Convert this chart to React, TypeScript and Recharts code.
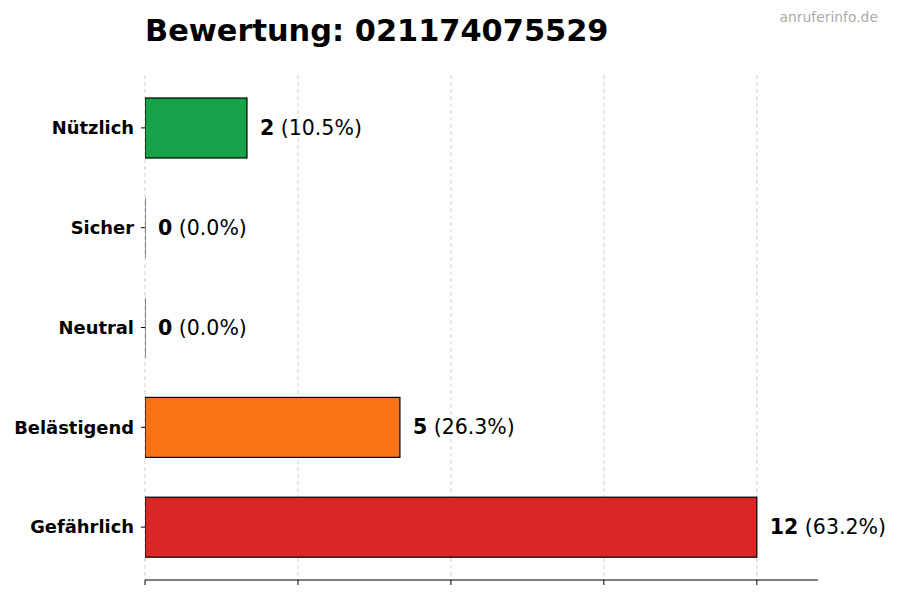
import React from "react";
import {
  Bar,
  BarChart,
  CartesianGrid,
  Cell,
  LabelList,
  XAxis,
  YAxis,
} from "recharts";

const categories = ["Nützlich", "Sicher", "Neutral", "Belästigend", "Gefährlich"];
const counts = [2, 0, 0, 5, 12];
const colors = ["#16a34a", "#3b82f6", "#9ca3af", "#f97316", "#dc2626"];
const xTicks = [0, 3, 6, 9, 12];
const xMax = 13.2;

const total = counts.reduce((a, b) => a + b, 0);
const data = categories.map((name, i) => ({
  name,
  count: counts[i],
  pct: ((counts[i] / total) * 100).toFixed(1),
}));

const FONT = "DejaVu Sans, sans-serif";

const BarShape = (props: any) => {
  const { x, y, width, height, fill } = props;
  if (!width || width < 0.5) {
    return <line x1={x} x2={x} y1={y} y2={y + height} stroke="#222" strokeWidth={1} />;
  }
  return (
    <rect
      x={x}
      y={y}
      width={width}
      height={height}
      fill={fill}
      stroke="#000"
      strokeWidth={1.2}
    />
  );
};

const ValueLabel = (props: any) => {
  const { x, y, width, height, index } = props;
  const d = data[index];
  if (!d) return null;
  return (
    <text
      x={x + (width || 0) + 13}
      y={y + height / 2}
      dominantBaseline="central"
      fontFamily={FONT}
      fontSize={20.5}
      fill="#000"
    >
      <tspan fontWeight="bold">{d.count}</tspan>
      <tspan> ({d.pct}%)</tspan>
    </text>
  );
};

// grid lines only at the tick values, not at the right edge
const gridX = (args: any) => {
  const { xAxis, offset } = args;
  if (xAxis && typeof xAxis.scale === "function") {
    return xTicks.map((t) => xAxis.scale(t));
  }
  return xTicks.map((t) => offset.left + (t / xMax) * offset.width);
};

export default function App() {
  return (
    <div
      style={{
        position: "absolute",
        left: 0,
        top: 0,
        width: 900,
        height: 600,
        background: "#fff",
      }}
    >
      <div
        style={{
          position: "absolute",
          left: 145,
          top: 11,
          fontFamily: FONT,
          fontWeight: "bold",
          fontSize: 30.4,
          lineHeight: "40px",
          color: "#000",
          whiteSpace: "nowrap",
        }}
      >
        Bewertung: 021174075529
      </div>
      <div
        style={{
          position: "absolute",
          right: 22,
          top: 8,
          fontFamily: FONT,
          fontSize: 13.9,
          lineHeight: "18px",
          color: "#aaaaaa",
        }}
      >
        anruferinfo.de
      </div>
      <BarChart
        width={900}
        height={600}
        data={data}
        layout="vertical"
        margin={{ top: 75, right: 82, bottom: 0, left: 0 }}
      >
        <CartesianGrid
          horizontal={false}
          strokeDasharray="4 3"
          stroke="#d0d0d0"
          verticalCoordinatesGenerator={gridX}
        />
        <XAxis
          type="number"
          domain={[0, xMax]}
          ticks={xTicks}
          height={20}
          axisLine={{ stroke: "#000" }}
          tickLine={{ stroke: "#000" }}
          tickSize={5}
          tick={() => <g />}
          allowDataOverflow
        />
        <YAxis
          type="category"
          dataKey="name"
          width={145}
          axisLine={false}
          tickLine={{ stroke: "#000" }}
          tickSize={4}
          tickMargin={7}
          padding={{ top: 3, bottom: 3 }}
          tick={{
            fill: "#000",
            fontFamily: FONT,
            fontWeight: "bold",
            fontSize: 17.9,
          }}
        />
        <Bar
          dataKey="count"
          barSize={60}
          shape={BarShape}
          isAnimationActive={false}
        >
          {data.map((d, i) => (
            <Cell key={d.name} fill={colors[i]} />
          ))}
          <LabelList dataKey="count" content={ValueLabel} />
        </Bar>
      </BarChart>
    </div>
  );
}
